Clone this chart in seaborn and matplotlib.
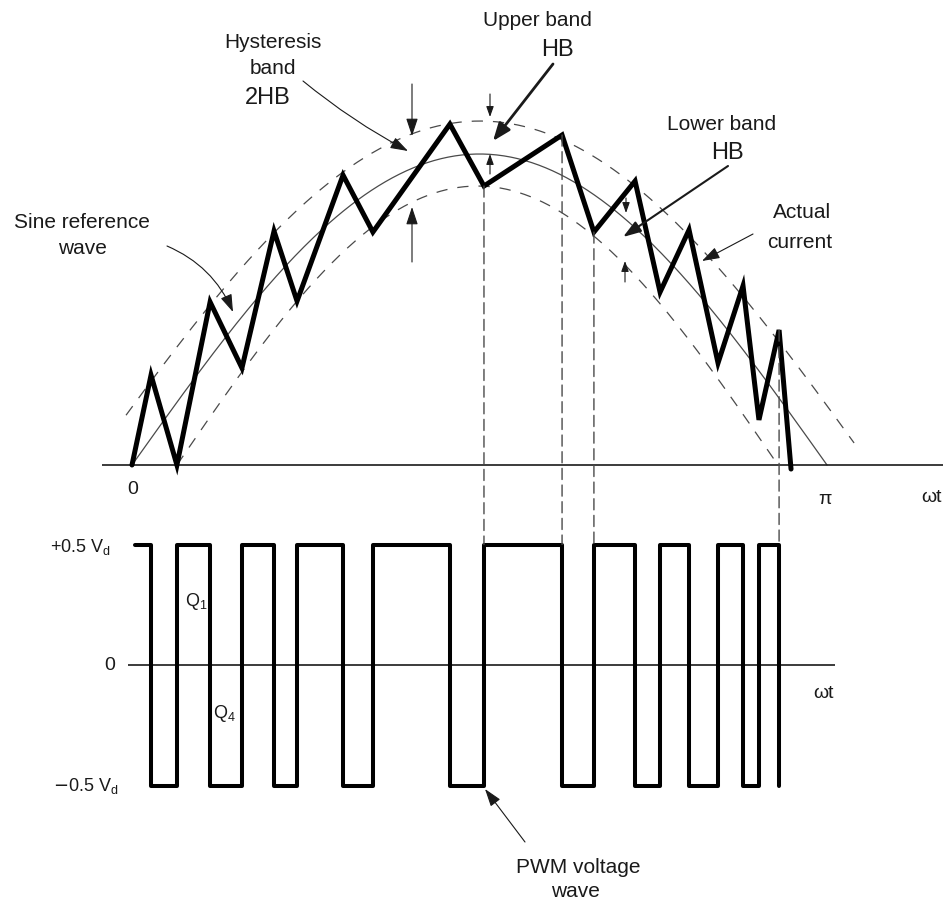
import numpy as np
import pandas as pd
import matplotlib
matplotlib.use("Agg")
import matplotlib.pyplot as plt
import seaborn as sns
from matplotlib.patches import ConnectionPatch

# actual current, corner points (wt in rad, current per unit of reference peak)
wt_current = [0.000, 0.086, 0.203, 0.353, 0.497, 0.642, 0.746, 0.954, 1.089, 1.437, 1.591,
              1.944, 2.088, 2.274, 2.387, 2.518, 2.649, 2.762, 2.834, 2.925, 2.979]
i_current = [0.000, 0.289, 0.000, 0.524, 0.312, 0.752, 0.527, 0.932, 0.749, 1.096, 0.897,
             1.061, 0.749, 0.913, 0.556, 0.756, 0.328, 0.576, 0.145, 0.434, -0.013]

# half sine envelopes: (start, end, peak)
ref_wave = (0.0, np.pi, 1.0)
upper_band = (-0.19, 3.336, 1.106)
lower_band = (0.203, 2.920, 0.897)
upper_shown = (-0.027, 3.264)

# pwm voltage wave
vd_half = 0.5
pwm_start = 0.014
traced = [10, 11, 12, 19]   # corners traced down to the pwm wave

W, H = 943, 903
S = np.pi / 695            # rad per pixel
X0 = -132 * S
X1 = 811 * S


def half_sine(x, env):
    a, b, pk = env
    return pk * np.sin(np.pi * (np.asarray(x) - a) / (b - a))


def fp(x, y):
    return (x, H - y)


sns.set_style("white")
plt.rcParams['font.family'] = ['Liberation Sans', 'DejaVu Sans']
plt.rcParams['mathtext.fontset'] = 'dejavusans'
ink = '#1a1a1a'
grey = '#4a4a4a'

fig = plt.figure(figsize=(W / 100, H / 100), dpi=100)
ax_top = fig.add_axes([0, 383 / H, 1, 520 / H])
ax_bot = fig.add_axes([0, 0, 1, 383 / H])

# ---- top: current and bands
x_ref = np.linspace(ref_wave[0], ref_wave[1], 300)
x_up = np.linspace(upper_shown[0], upper_shown[1], 300)
x_lo = np.linspace(lower_band[0], lower_band[1], 300)

sns.lineplot(x=x_ref, y=half_sine(x_ref, ref_wave), ax=ax_top, color=grey, lw=0.9, sort=False)
sns.lineplot(x=x_up, y=half_sine(x_up, upper_band), ax=ax_top, color=grey, lw=0.9,
             dashes=False, linestyle=(0, (9, 8)), sort=False)
sns.lineplot(x=x_lo, y=half_sine(x_lo, lower_band), ax=ax_top, color=grey, lw=0.9,
             linestyle=(0, (9, 8)), sort=False)

ax_top.hlines(0, (102 - 132) * S, X1, color=ink, lw=1.2)
cur = pd.DataFrame({'wt': wt_current, 'i': i_current})
sns.lineplot(data=cur, x='wt', y='i', ax=ax_top, color='black', lw=3.6, sort=False,
             solid_joinstyle='miter')

ax_top.set_xlim(X0, X1)
ax_top.set_ylim((466 - 520) / 311, 466 / 311)
ax_top.axis('off')

# ---- bottom: pwm voltage
switch_x = wt_current[1:-1]
pwm_x = [pwm_start] + switch_x
pwm_y = [vd_half] + [-vd_half if k % 2 == 1 else vd_half for k in range(1, len(wt_current) - 1)]

ax_bot.hlines(0, (128 - 132) * S, (835 - 132) * S, color=ink, lw=1.2)
sns.lineplot(x=pwm_x, y=pwm_y, ax=ax_bot, color='black', lw=2.9, drawstyle='steps-post',
             sort=False, solid_joinstyle='round')
ax_bot.set_xlim(X0, X1)
ax_bot.set_ylim(-(H - 666) / 241, (666 - 520) / 241)
ax_bot.axis('off')

# dashed projections from the current corners down to the pwm wave
for k in traced:
    con = ConnectionPatch(xyA=(wt_current[k], i_current[k]), coordsA=ax_top.transData,
                          xyB=(wt_current[k], vd_half), coordsB=ax_bot.transData,
                          color=grey, lw=1.0, linestyle=(0, (8, 4)))
    fig.add_artist(con)

# ---- labels
def label(x, y, s, size=15, **kw):
    fig.text(x / W, 1 - y / H, s, fontsize=size, ha='center', va='center', color=ink, **kw)


label(82, 222, 'Sine reference')
label(82, 249, 'wave')
label(273, 42, 'Hysteresis')
label(273, 68, 'band')
label(268, 98, '2HB', size=17)
label(537, 20, 'Upper band')
label(557, 50, 'HB', size=17)
label(722, 125, 'Lower band')
label(727, 153, 'HB', size=17)
label(802, 213, 'Actual')
label(800, 242, 'current')
label(578, 868, 'PWM voltage')
label(575, 892, 'wave')

label(133, 490, '0', size=14)
label(825, 500, 'π', size=14)
label(932, 498, 'ωt', size=14)
label(823, 693, 'ωt', size=14)
label(80, 547, r'+0.5 V$_\mathregular{d}$', size=13)
label(110, 666, '0', size=14)
label(86, 786, r'$-$0.5 V$_\mathregular{d}$', size=13)
label(196, 601, r'Q$_\mathregular{1}$', size=13)
label(224, 714, r'Q$_\mathregular{4}$', size=13)

# ---- arrows
def arrow(a, b, lw=0.8, rad=0.0, hl=0.9, hw=0.3, ms=12):
    ax_top.annotate('', xy=fp(*b), xytext=fp(*a), xycoords='figure pixels',
                    textcoords='figure pixels',
                    arrowprops=dict(arrowstyle=f'-|>,head_length={hl},head_width={hw}',
                                    lw=lw, color=ink, shrinkA=0, shrinkB=0,
                                    mutation_scale=ms,
                                    connectionstyle=f'arc3,rad={rad}'))


arrow((167, 247), (233, 313), rad=-0.2)
arrow((303, 82), (408, 152), rad=0.05)
arrow((412, 85), (412, 137))
arrow((412, 263), (412, 208))
arrow((553, 65), (493, 142), lw=2.0, hw=0.35)
arrow((490, 95), (490, 118), hl=0.7, hw=0.25, ms=9)
arrow((490, 175), (490, 155), hl=0.7, hw=0.25, ms=9)
arrow((728, 167), (623, 238), lw=1.5)
arrow((626, 199), (626, 214), hl=0.7, hw=0.25, ms=9)
arrow((625, 283), (625, 262), hl=0.7, hw=0.25, ms=9)
arrow((753, 235), (702, 262))
arrow((525, 843), (485, 790))

fig.savefig('out.png', dpi=100, facecolor='white')
